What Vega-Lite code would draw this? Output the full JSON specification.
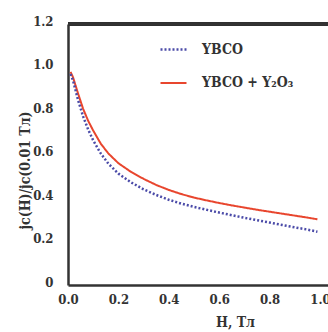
{
  "$schema": "https://vega.github.io/schema/vega-lite/v6.json",
  "autosize": "none",
  "width": 260,
  "height": 261,
  "padding": {"left": 68, "top": 24, "right": 0, "bottom": 47},
  "background": "white",
  "config": {
    "view": {"stroke": null},
    "font": "DejaVu Serif Condensed"
  },
  "data": {
    "values": [
      {"H": 0.01, "r": 0.98, "s": "YBCO + Y₂O₃"},
      {"H": 0.02, "r": 0.955, "s": "YBCO + Y₂O₃"},
      {"H": 0.04, "r": 0.88, "s": "YBCO + Y₂O₃"},
      {"H": 0.06, "r": 0.81, "s": "YBCO + Y₂O₃"},
      {"H": 0.08, "r": 0.755, "s": "YBCO + Y₂O₃"},
      {"H": 0.10, "r": 0.71, "s": "YBCO + Y₂O₃"},
      {"H": 0.13, "r": 0.65, "s": "YBCO + Y₂O₃"},
      {"H": 0.16, "r": 0.605, "s": "YBCO + Y₂O₃"},
      {"H": 0.20, "r": 0.56, "s": "YBCO + Y₂O₃"},
      {"H": 0.25, "r": 0.52, "s": "YBCO + Y₂O₃"},
      {"H": 0.30, "r": 0.488, "s": "YBCO + Y₂O₃"},
      {"H": 0.35, "r": 0.46, "s": "YBCO + Y₂O₃"},
      {"H": 0.40, "r": 0.437, "s": "YBCO + Y₂O₃"},
      {"H": 0.45, "r": 0.418, "s": "YBCO + Y₂O₃"},
      {"H": 0.50, "r": 0.402, "s": "YBCO + Y₂O₃"},
      {"H": 0.55, "r": 0.389, "s": "YBCO + Y₂O₃"},
      {"H": 0.60, "r": 0.377, "s": "YBCO + Y₂O₃"},
      {"H": 0.65, "r": 0.366, "s": "YBCO + Y₂O₃"},
      {"H": 0.70, "r": 0.356, "s": "YBCO + Y₂O₃"},
      {"H": 0.75, "r": 0.346, "s": "YBCO + Y₂O₃"},
      {"H": 0.80, "r": 0.337, "s": "YBCO + Y₂O₃"},
      {"H": 0.85, "r": 0.328, "s": "YBCO + Y₂O₃"},
      {"H": 0.90, "r": 0.319, "s": "YBCO + Y₂O₃"},
      {"H": 0.95, "r": 0.31, "s": "YBCO + Y₂O₃"},
      {"H": 0.99, "r": 0.302, "s": "YBCO + Y₂O₃"},
      {"H": 0.01, "r": 0.97, "s": "YBCO"},
      {"H": 0.02, "r": 0.94, "s": "YBCO"},
      {"H": 0.04, "r": 0.85, "s": "YBCO"},
      {"H": 0.06, "r": 0.775, "s": "YBCO"},
      {"H": 0.08, "r": 0.715, "s": "YBCO"},
      {"H": 0.10, "r": 0.665, "s": "YBCO"},
      {"H": 0.13, "r": 0.605, "s": "YBCO"},
      {"H": 0.16, "r": 0.558, "s": "YBCO"},
      {"H": 0.20, "r": 0.512, "s": "YBCO"},
      {"H": 0.25, "r": 0.472, "s": "YBCO"},
      {"H": 0.30, "r": 0.44, "s": "YBCO"},
      {"H": 0.35, "r": 0.414, "s": "YBCO"},
      {"H": 0.40, "r": 0.392, "s": "YBCO"},
      {"H": 0.45, "r": 0.374, "s": "YBCO"},
      {"H": 0.50, "r": 0.359, "s": "YBCO"},
      {"H": 0.55, "r": 0.346, "s": "YBCO"},
      {"H": 0.60, "r": 0.333, "s": "YBCO"},
      {"H": 0.65, "r": 0.321, "s": "YBCO"},
      {"H": 0.70, "r": 0.309, "s": "YBCO"},
      {"H": 0.75, "r": 0.298, "s": "YBCO"},
      {"H": 0.80, "r": 0.287, "s": "YBCO"},
      {"H": 0.85, "r": 0.276, "s": "YBCO"},
      {"H": 0.90, "r": 0.265, "s": "YBCO"},
      {"H": 0.95, "r": 0.255, "s": "YBCO"},
      {"H": 0.99, "r": 0.245, "s": "YBCO"}
    ]
  },
  "layer": [
    {
      "mark": {"type": "line", "clip": true},
      "encoding": {
        "x": {
          "field": "H", "type": "quantitative",
          "scale": {"domain": [0, 1.032], "nice": false, "zero": false},
          "axis": {
            "values": [0, 0.2, 0.4, 0.6, 0.8, 1.0],
            "format": ".1f",
            "labelFlush": false,
            "title": "H, Тл",
            "titleFont": "DejaVu Serif Condensed", "titleFontSize": 14, "titleFontWeight": "bold", "titleColor": "#333",
            "titleX": 167, "titleY": 37, "titleBaseline": "middle", "titleAnchor": null, "titleAlign": "center",
            "labelFont": "DejaVu Serif Condensed", "labelFontSize": 13, "labelFontWeight": "bold", "labelColor": "#333",
            "labelPadding": 8,
            "ticks": false, "grid": false,
            "domainColor": "#333", "domainWidth": 2.5
          }
        },
        "y": {
          "field": "r", "type": "quantitative",
          "scale": {"domain": [0, 1.2], "nice": false},
          "axis": {
            "values": [0, 0.2, 0.4, 0.6, 0.8, 1.0, 1.2],
            "labelExpr": "datum.value == 0 ? '0' : format(datum.value, '.1f')",
            "labelFlush": false,
            "title": "jc(H)/jc(0.01 Тл)",
            "titleFont": "DejaVu Serif Condensed", "titleFontSize": 14, "titleFontWeight": "bold", "titleColor": "#333",
            "titleX": -43, "titleY": 146, "titleBaseline": "middle", "titleAngle": -90, "titleAlign": "center",
            "labelFont": "DejaVu Serif Condensed", "labelFontSize": 13, "labelFontWeight": "bold", "labelColor": "#333",
            "labelPadding": 15, "labelOffset": -3,
            "ticks": false, "grid": false,
            "domainColor": "#333", "domainWidth": 2.5
          }
        },
        "color": {
          "field": "s", "type": "nominal",
          "scale": {"domain": ["YBCO", "YBCO + Y₂O₃"], "range": ["#4b4ba8", "#e8462e"]},
          "legend": {
            "orient": "none", "legendX": 91, "legendY": 11,
            "title": null,
            "symbolType": "stroke", "symbolSize": 676, "symbolStrokeWidth": 2,
            "labelFont": "DejaVu Serif Condensed", "labelFontSize": 14, "labelFontWeight": "bold", "labelColor": "#333",
            "labelOffset": 14, "rowPadding": 12
          }
        },
        "strokeDash": {
          "field": "s", "type": "nominal",
          "scale": {"domain": ["YBCO", "YBCO + Y₂O₃"], "range": [[2, 2], [1, 0]]},
          "legend": null
        },
        "strokeWidth": {
          "field": "s", "type": "nominal",
          "scale": {"domain": ["YBCO", "YBCO + Y₂O₃"], "range": [2.5, 2]},
          "legend": null
        }
      }
    },
    {
      "mark": {"type": "rule", "color": "#333", "strokeWidth": 2.5},
      "encoding": {
        "y": {"datum": 1.2}
      }
    }
  ]
}
